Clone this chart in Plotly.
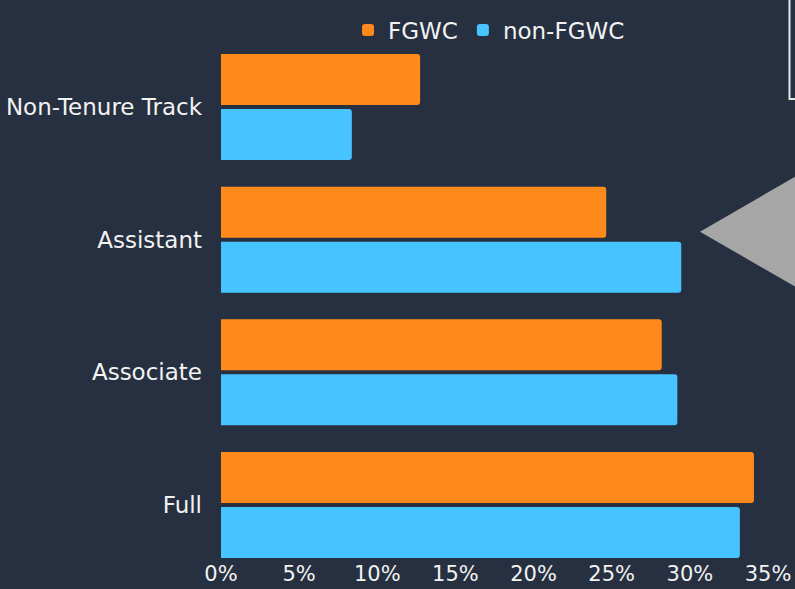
import plotly.graph_objects as go

categories = ["Full", "Associate", "Assistant", "Non-Tenure Track"]
fgwc = [34.1, 28.2, 24.65, 12.74]
non_fgwc = [33.2, 29.2, 29.45, 8.37]
tick_vals = [0, 5, 10, 15, 20, 25, 30, 35]
tick_text = ["0%", "5%", "10%", "15%", "20%", "25%", "30%", "35%"]

BG = "#263040"
FONT = "DejaVu Sans"
TXT = "#f2f2f2"

W, H = 795, 589
ML, MR, MT, MB = 221, 27, 40, 30
pw, ph = W - ML - MR, H - MT - MB
PLOT_BOTTOM = H - MB


def px_x(p):
    return (p - ML) / pw


def px_y(p):
    return (H - MB - p) / ph


fig = go.Figure()
fig.add_trace(go.Bar(y=categories, x=non_fgwc, orientation="h", name="non-FGWC",
                     marker=dict(color="#47C4FF", line=dict(width=0))))
fig.add_trace(go.Bar(y=categories, x=fgwc, orientation="h", name="FGWC",
                     marker=dict(color="#FF8A1C", line=dict(width=0))))

# decorative callout triangle and box edge
tri = "M {} {} L {} {} L {} {} Z".format(
    px_x(700), px_y(231.7), px_x(830), px_y(156.4), px_x(830), px_y(306.8))
shapes = [
    dict(type="path", path=tri, xref="paper", yref="paper",
         fillcolor="#A6A6A6", line=dict(width=0)),
    dict(type="rect", xref="paper", yref="paper",
         x0=px_x(789.5), x1=px_x(840), y0=px_y(99), y1=px_y(-20),
         line=dict(color="#e6e6e6", width=2), fillcolor="rgba(0,0,0,0)"),
]

unit = 132.67
fig.update_layout(
    width=W, height=H,
    paper_bgcolor=BG, plot_bgcolor=BG,
    margin=dict(l=ML, r=MR, t=MT, b=MB, autoexpand=False),
    barmode="group",
    bargap=0.171, bargroupgap=0.073,
    barcornerradius=3,
    font=dict(family=FONT, size=21, color=TXT),
    showlegend=True,
    legend=dict(orientation="h", x=0.49, xanchor="center",
                yref="container", y=1 - 30 / H, yanchor="middle",
                traceorder="reversed", itemwidth=30,
                font=dict(family=FONT, size=23, color=TXT),
                bgcolor="rgba(0,0,0,0)"),
    xaxis=dict(range=[0, 35], tickvals=tick_vals, ticktext=tick_text,
               showgrid=False, zeroline=False, showline=False, ticks="",
               automargin=False,
               tickfont=dict(family=FONT, size=21, color=TXT), fixedrange=True),
    yaxis=dict(categoryorder="array", categoryarray=categories,
               range=[-(PLOT_BOTTOM - 505) / unit, 3 + (107 - MT) / unit],
               showgrid=False, zeroline=False, showline=False, ticks="",
               ticklabelstandoff=18, automargin=False,
               tickfont=dict(family=FONT, size=23, color=TXT)),
    shapes=shapes,
)

fig.write_html("out.html", config={"displayModeBar": False},
               post_script="document.body.style.margin='0';document.body.style.padding='0';")
